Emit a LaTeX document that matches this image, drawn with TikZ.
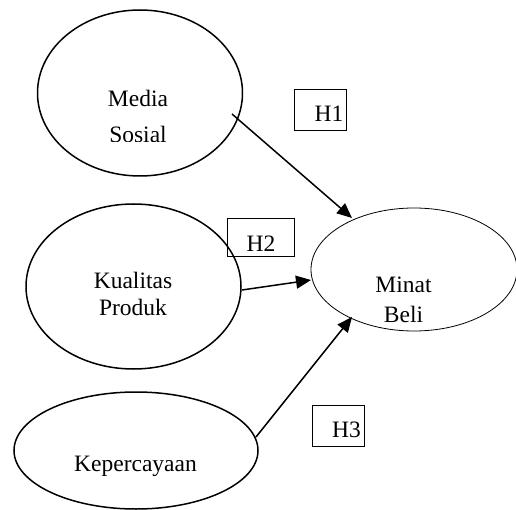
\documentclass[tikz,border=0pt]{standalone}
\usepackage{fontspec}
\setmainfont{Liberation Serif}
\usetikzlibrary{shapes.geometric,arrows.meta}
\tikzset{
  var/.style={ellipse, draw, line width=1.5pt, inner sep=0pt},
  hbox/.style={draw, line width=0.8pt, inner sep=0pt},
  lbl/.style={anchor=base, inner sep=0pt, font=\fontsize{23.5}{28}\selectfont},
  arr/.style={line width=1.5pt, -{Triangle[length=15pt,width=13pt]}}
}
\begin{document}
\begin{tikzpicture}[x=1pt,y=-1pt]
\useasboundingbox (0,0) rectangle (516,510);
% ellipses
\node[var, minimum width=205pt, minimum height=166pt] (ms) at (140,93) {};
\node[var, minimum width=215pt, minimum height=165pt] (kp) at (133.5,286.5) {};
\node[var, minimum width=244pt, minimum height=117pt] (kc) at (136,450.5) {};
\node[ellipse, draw, line width=0.8pt, inner sep=0pt, minimum width=206pt, minimum height=123pt] (mb) at (414,269.5) {};
% texts
\node[lbl] (t1) at (138,107) {Media};
\begin{scope}
\clip (0,0) rectangle (516,141.5);
\node[lbl] (t2) at (138,143) {Sosial};
\end{scope}
\node[lbl] (t3) at (133,288) {Kualitas};
\node[lbl] (t4) at (133,316) {Produk};
\node[lbl] (t5) at (135.5,471) {Kepercayaan};
\node[lbl] (t6) at (403.5,293) {Minat};
\node[lbl] (t7) at (403.5,322) {Beli};
% hypothesis boxes
\node[hbox, minimum width=52pt, minimum height=41pt] (h1) at (320,109.5) {};
\node[hbox, minimum width=67pt, minimum height=38pt] (h2) at (260.5,237) {};
\node[hbox, minimum width=52pt, minimum height=41pt] (h3) at (338,425.5) {};
\node[lbl] (l1) at (329,122) {H1};
\node[lbl] (l2) at (261,252) {H2};
\node[lbl] (l3) at (346.5,437) {H3};
% connectors
\coordinate (s1) at (232,114);
\coordinate (e1) at (352,218);
\coordinate (s2) at (242,290);
\coordinate (e2) at (311,280);
\coordinate (s3) at (256,437);
\coordinate (e3) at (352,317);
\draw[arr] (s1) -- (e1);
\draw[arr] (s2) -- (e2);
\draw[arr] (s3) -- (e3);
\end{tikzpicture}
\end{document}
